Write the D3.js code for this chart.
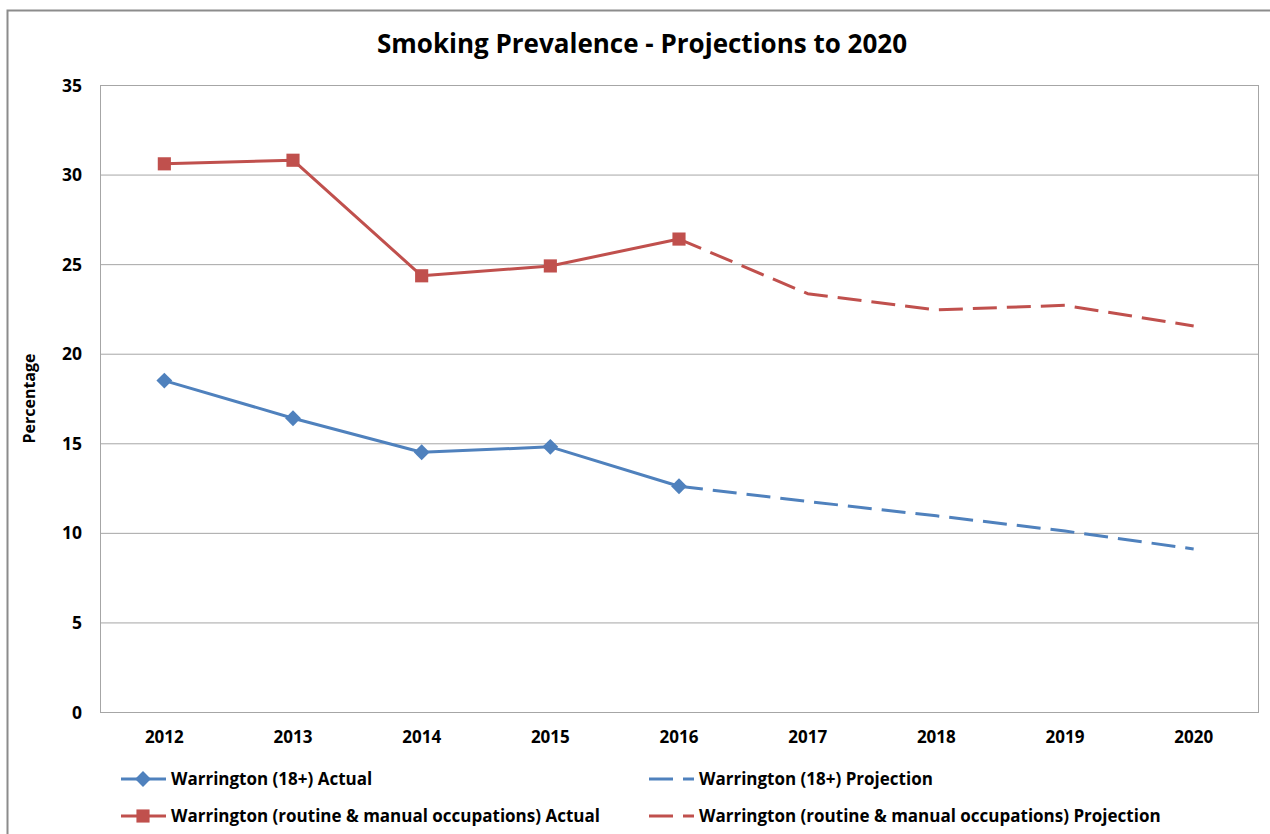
<!DOCTYPE html>
<html>
<head>
<meta charset="utf-8">
<script src="https://cdn.jsdelivr.net/npm/d3@7"></script>
<style>
  body { margin: 0; background: #fff; }
  svg text { font-family: "Open Sans", "Noto Sans", sans-serif; font-weight: bold; fill: #000; }
</style>
</head>
<body>
<div id="chart"></div>
<script>
// chart data
const years = ['2012', '2013', '2014', '2015', '2016', '2017', '2018', '2019', '2020'];
const adultActual = [18.5, 16.4, 14.5, 14.8, 12.6, null, null, null, null];
const adultProjection = [null, null, null, null, 12.6, 11.75, 10.95, 10.1, 9.1];
const routineActual = [30.6, 30.8, 24.35, 24.9, 26.4, null, null, null, null];
const routineProjection = [null, null, null, null, 26.4, 23.35, 22.45, 22.7, 21.55];
const yTicks = [0, 5, 10, 15, 20, 25, 30, 35];

const seriesNames = [
    'Warrington (18+) Actual',
    'Warrington (18+) Projection',
    'Warrington (routine & manual occupations) Actual',
    'Warrington (routine & manual occupations) Projection'
];

const blue = '#4f81bd';
const red = '#c0504d';

const width = 1270, height = 834;
const plotLeft = 100, plotRight = 1258, plotTop = 85, plotBottom = 712;

const svg = d3.select('#chart')
    .append('svg')
    .attr('width', width)
    .attr('height', height);

// outer chart border
svg.append('path')
    .attr('d', `M7.5,${height}V10.5H${width}`)
    .attr('fill', 'none')
    .attr('stroke', '#8c8c8c')
    .attr('stroke-width', 2);

const xScale = d3.scaleBand().domain(years).range([plotLeft, plotRight]);
const yScale = d3.scaleLinear().domain([0, 35]).range([plotBottom, plotTop]);
const xPos = d => xScale(d) + xScale.bandwidth() / 2;

// gridlines
svg.append('g')
    .selectAll('line')
    .data(yTicks)
    .join('line')
    .attr('x1', plotLeft).attr('x2', plotRight)
    .attr('y1', d => yScale(d) + 0.5).attr('y2', d => yScale(d) + 0.5)
    .attr('stroke', '#a6a6a6')
    .attr('stroke-width', 1);

// plot frame
svg.append('rect')
    .attr('x', plotLeft + 0.5).attr('y', plotTop + 0.5)
    .attr('width', plotRight - plotLeft).attr('height', plotBottom - plotTop)
    .attr('fill', 'none')
    .attr('stroke', '#a6a6a6');

// y axis
const yAxis = d3.axisLeft(yScale).tickValues(yTicks).tickSize(0).tickPadding(18);
svg.append('g')
    .attr('transform', `translate(${plotLeft},0)`)
    .call(yAxis)
    .call(g => g.select('.domain').remove())
    .selectAll('text')
    .attr('font-size', 17.5)
    .attr('dy', '0.35em');

// x axis
const xAxis = d3.axisBottom(xScale).tickSize(0).tickPadding(19);
svg.append('g')
    .attr('transform', `translate(0,${plotBottom})`)
    .call(xAxis)
    .call(g => g.select('.domain').remove())
    .selectAll('text')
    .attr('font-size', 17);

// title
svg.append('text')
    .attr('x', 642)
    .attr('y', 53)
    .attr('text-anchor', 'middle')
    .attr('font-size', 26)
    .text('Smoking Prevalence - Projections to 2020');

// y label
svg.append('text')
    .attr('transform', `translate(35,${(plotTop + plotBottom) / 2}) rotate(-90)`)
    .attr('text-anchor', 'middle')
    .attr('font-size', 16)
    .text('Percentage');

const line = d3.line()
    .defined(d => d.v != null)
    .x(d => xPos(d.year))
    .y(d => yScale(d.v));

const withYears = arr => arr.map((v, i) => ({ year: years[i], v: v }));

function drawLine(values, color, dashed) {
    svg.append('path')
        .datum(withYears(values))
        .attr('fill', 'none')
        .attr('stroke', color)
        .attr('stroke-width', 3)
        .attr('stroke-linejoin', 'round')
        .attr('stroke-dasharray', dashed ? '24,10' : null)
        .attr('d', line);
}

drawLine(adultProjection, blue, true);
drawLine(routineProjection, red, true);
drawLine(adultActual, blue, false);
drawLine(routineActual, red, false);

const diamond = d3.symbol().type(d3.symbolDiamond2).size(160);
const square = d3.symbol().type(d3.symbolSquare2).size(220);

svg.append('g')
    .selectAll('path')
    .data(withYears(adultActual).filter(d => d.v != null))
    .join('path')
    .attr('transform', d => `translate(${xPos(d.year)},${yScale(d.v)})`)
    .attr('d', diamond)
    .attr('fill', blue);

svg.append('g')
    .selectAll('path')
    .data(withYears(routineActual).filter(d => d.v != null))
    .join('path')
    .attr('transform', d => `translate(${xPos(d.year)},${yScale(d.v)})`)
    .attr('d', square)
    .attr('fill', red);

// legend
const legendItems = [
    { name: seriesNames[0], color: blue, dashed: false, marker: diamond, x: 121, y: 779 },
    { name: seriesNames[1], color: blue, dashed: true, marker: null, x: 649, y: 779 },
    { name: seriesNames[2], color: red, dashed: false, marker: square, x: 121, y: 816 },
    { name: seriesNames[3], color: red, dashed: true, marker: null, x: 649, y: 816 }
];

const legend = svg.append('g')
    .selectAll('g')
    .data(legendItems)
    .join('g')
    .attr('transform', d => `translate(${d.x},${d.y})`);

legend.append('line')
    .attr('x1', 0).attr('x2', 45)
    .attr('stroke', d => d.color)
    .attr('stroke-width', 3)
    .attr('stroke-dasharray', d => d.dashed ? '24,10' : null);

legend.filter(d => d.marker)
    .append('path')
    .attr('transform', 'translate(22,0)')
    .attr('d', d => d.marker())
    .attr('fill', d => d.color);

legend.append('text')
    .attr('x', 50)
    .attr('dy', '0.35em')
    .attr('font-size', 17)
    .text(d => d.name);
</script>
</body>
</html>
